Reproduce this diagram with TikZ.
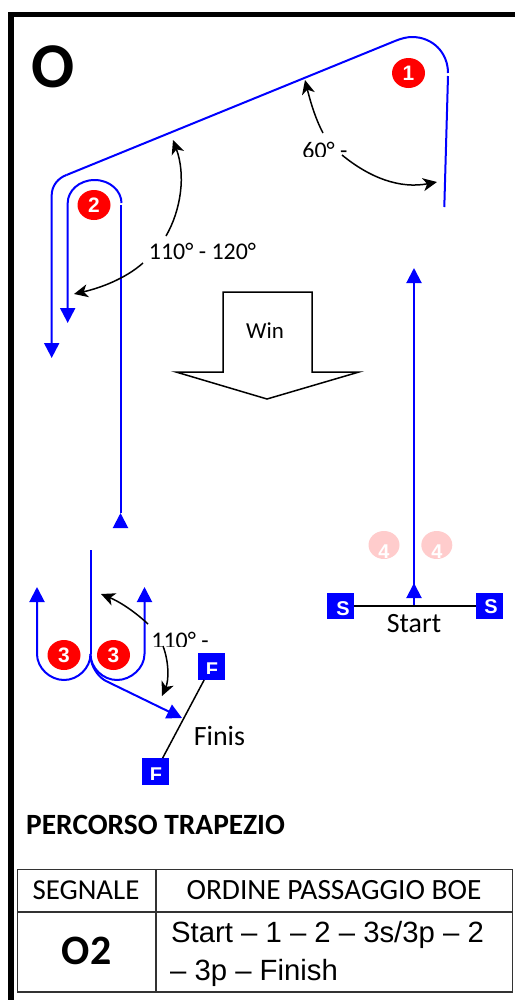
\documentclass[tikz,border=0pt]{standalone}
\usepackage{fontspec}
\setmainfont{Carlito}
\newfontfamily\arialf{Liberation Sans}
\usetikzlibrary{arrows.meta,shapes.geometric}
\definecolor{bl}{RGB}{0,0,255}
\definecolor{rd}{RGB}{255,0,0}
\definecolor{pk}{RGB}{255,204,204}
\tikzset{
  course/.style={draw=bl,line width=2bp},
  coursetip/.style={course,-{Triangle[width=15bp,length=15bp]}},
  anglearrow/.style={draw=black,line width=1.5bp,-{Stealth[width=13bp,length=14bp,inset=4bp]}},
  buoy/.style={ellipse,fill=rd,minimum width=33bp,minimum height=30bp,inner sep=0pt,text=white,font=\arialf\bfseries\fontsize{21}{21}\selectfont},
  fadedbuoy/.style={buoy,fill=pk},
  gate/.style={fill=bl,minimum size=26.5bp,inner sep=0pt},
  gatetext/.style={inner sep=0pt,text=white,font=\arialf\bfseries\fontsize{20}{20}\selectfont},
  lab/.style={inner sep=0pt,font=\fontsize{24}{24}\selectfont},
  biglab/.style={inner sep=0pt,font=\fontsize{28}{28}\selectfont},
  cell/.style={inner sep=0pt},
}
\begin{document}
\begin{tikzpicture}[x=1bp,y=-1bp]
\useasboundingbox (0,0) rectangle (515,1000);
% frame
\fill[black] (8,12) rectangle (515,17);
\fill[black] (8,12) rectangle (14,1000);
\node[inner sep=0pt,font=\bfseries\fontsize{64}{64}\selectfont] (title) at (53.5,67) {O};
% coordinates
\coordinate (a0) at (444.3,207);
\coordinate (a1) at (448,76);
\coordinate (b0) at (448,73);
\coordinate (b1) at (395,41);
\coordinate (c0) at (66.5,175);
\coordinate (c1) at (51.7,195);
\coordinate (c2) at (51.7,358);
\coordinate (d0) at (120.5,526);
\coordinate (d1) at (120.5,205);
\coordinate (d2) at (120.5,513);
\coordinate (e0) at (121.5,203);
\coordinate (e1) at (67.7,203);
\coordinate (e2) at (67.7,323);
\coordinate (f0) at (414,597);
\coordinate (f1) at (414,268);
\coordinate (g0) at (414,607);
\coordinate (g1) at (414,583);
\coordinate (h0) at (90.5,550);
\coordinate (h1) at (90.5,654);
\coordinate (i0) at (37,654);
\coordinate (i1) at (37,587);
\coordinate (j0) at (144.5,654);
\coordinate (j1) at (144.5,587);
\coordinate (k0) at (91,660);
\coordinate (k1) at (106,681);
\coordinate (k2) at (182,718);
% buoys
\node[buoy] (m1) at (408.5,73) {1};
\node[buoy] (m2) at (94,205) {2};
\node[buoy] (m3a) at (64,655) {3};
\node[buoy] (m3b) at (113.5,655) {3};
\begin{scope}
\clip (360,525) rectangle (460,558);
\node[fadedbuoy,minimum width=31bp,minimum height=28bp] (m4a) at (384,545) {};
\node[fadedbuoy,minimum width=31bp,minimum height=28bp] (m4b) at (436.8,545) {};
\node[gatetext] (t4a) at (384,552) {4};
\node[gatetext] (t4b) at (436.8,552) {4};
\end{scope}
% course
\draw[course] (a0) -- (a1);
\draw[course] (b0) .. controls (448,53) and (433,37) .. (412,37) .. controls (407,37) and (401,38.5) .. (b1);
\draw[course] (b1) -- (c0);
\draw[coursetip] (c0) .. controls (58,178) and (51.7,186) .. (c1) -- (c2);
\draw[coursetip] (e0) .. controls (121.5,191) and (110,180) .. (94.6,180) .. controls (79,180) and (67.7,191) .. (e1) -- (e2);
\draw[course] (d1) -- (d2);
\draw[coursetip] (d0) -- (d2);
\draw[coursetip] (f0) -- (f1);
\draw[coursetip] (g0) -- (g1);
\draw[course] (h0) -- (h1);
\draw[coursetip] (h1) .. controls (90.5,668) and (78,680) .. (64,680) .. controls (50,680) and (37,668) .. (i0) -- (i1);
\draw[coursetip] (h1) .. controls (90.5,668) and (103,680) .. (117,680) .. controls (131,680) and (144.5,668) .. (j0) -- (j1);
\draw[coursetip] (k0) .. controls (93,670) and (100,678) .. (k1) -- (k2);
% start and finish lines
\node[gate] (s1) at (340.5,606) {};
\node[gate] (s2) at (489.5,606) {};
\draw[black,line width=1.5bp] (s1) -- (s2);
\node[gate] (f1g) at (211.3,666.5) {};
\node[gate] (f2g) at (155.5,771.5) {};
\draw[black,line width=1.5bp] (f1g) -- (f2g);
\begin{scope}
\clip (327,593) rectangle (503,616.5);
\node[gatetext] (st1) at (343,609) {S};
\node[gatetext] (st2) at (491,607) {S};
\end{scope}
\begin{scope}
\clip (198,654) rectangle (225,673.5);
\node[gatetext] (ft1) at (212,669.5) {F};
\end{scope}
\begin{scope}
\clip (142,759) rectangle (169,779);
\node[gatetext] (ft2) at (156,775) {F};
\end{scope}
% wind arrow
\draw[black,line width=1.5bp,fill=white,line join=miter] (223,292) -- (312,292) -- (312,372) -- (359,372) -- (267,399) -- (176,372) -- (223,372) -- cycle;
\node[lab,font=\fontsize{23}{23}\selectfont] (win) at (265,331) {Win};
% labels
\node[lab,anchor=base] (a120) at (202.5,259) {110° - 120°};
\node[biglab,anchor=base] (start) at (414,632) {Start};
\node[biglab,anchor=base] (finis) at (219.5,745) {Finis};
\begin{scope}
\clip (290,130) rectangle (360,156);
\node[lab,anchor=base] (a60) at (325,158) {60° -};
\end{scope}
\begin{scope}
\clip (140,625) rectangle (225,646);
\node[lab,anchor=base] (a110) at (180,648) {110° -};
\end{scope}
\coordinate (p1) at (166,236);
\coordinate (p1t) at (173,140);
\coordinate (p2) at (143,263);
\coordinate (p2t) at (74,294);
\coordinate (p3) at (323,133);
\coordinate (p3t) at (305,80);
\coordinate (p4) at (342,155);
\coordinate (p4t) at (437,182);
\coordinate (p5) at (148,624);
\coordinate (p5t) at (101,594);
\coordinate (p6) at (163,646);
\coordinate (p6t) at (162,696);
\draw[anglearrow] (p1) .. controls (181,210) and (186,175) .. (p1t);
\draw[anglearrow] (p2) .. controls (125,279) and (100,288) .. (p2t);
\draw[anglearrow] (p3) .. controls (315,118) and (310,100) .. (p3t);
\draw[anglearrow] (p4) .. controls (370,178) and (400,189) .. (p4t);
\draw[anglearrow] (p5) .. controls (133,610) and (118,601) .. (p5t);
\draw[anglearrow] (p6) .. controls (169,662) and (169,680) .. (p6t);
% heading and table
\node[inner sep=0pt,anchor=base west,font=\bfseries\fontsize{29.5}{29.5}\selectfont] (head) at (26,834) {PERCORSO TRAPEZIO};
\coordinate (tl) at (17.5,869.5);
\coordinate (tr) at (512.5,869.5);
\coordinate (bl) at (17.5,992);
\coordinate (br) at (512.5,992);
\coordinate (ct) at (156,869.5);
\coordinate (cb) at (156,992);
\coordinate (ml) at (17.5,912);
\coordinate (mr) at (512.5,912);
\draw[black!80,line width=1.2bp] (tl) -- (tr) -- (br) -- (bl) -- cycle;
\draw[black!80,line width=1.2bp] (ct) -- (cb);
\draw[black!80,line width=1.2bp] (ml) -- (mr);
\node[cell,anchor=base,font=\fontsize{29}{29}\selectfont] (h1t) at (86,899) {SEGNALE};
\node[cell,anchor=base,font=\fontsize{29.5}{29.5}\selectfont] (h2t) at (334,899) {ORDINE PASSAGGIO BOE};
\node[cell,anchor=base,font=\bfseries\fontsize{42}{42}\selectfont] (o2) at (86.5,964) {O2};
\node[cell,anchor=base west,font=\arialf\fontsize{29.4}{29.4}\selectfont] (l1) at (171,942) {Start – 1 – 2 – 3s/3p – 2};
\node[cell,anchor=base west,font=\arialf\fontsize{29.4}{29.4}\selectfont] (l2) at (170,980) {– 3p – Finish};
\end{tikzpicture}
\end{document}
